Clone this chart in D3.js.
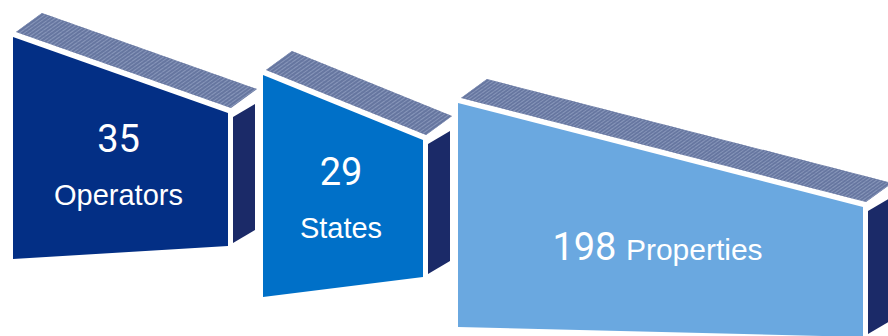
<!DOCTYPE html>
<html>
<head>
<meta charset="utf-8">
<script src="https://cdn.jsdelivr.net/npm/d3@7"></script>
<style>
  html, body { margin: 0; padding: 0; background: #fff; }
  svg { display: block; }
  .num { font-family: Roboto, "Liberation Sans", Arial, sans-serif; font-weight: 400; fill: #fff; }
  .lbl { font-family: "Liberation Sans", Arial, sans-serif; fill: #fff; }
</style>
</head>
<body>
<svg width="888" height="336"></svg>
<script>
// data
const categories = ['Operators', 'States', 'Properties']
const values = [35, 29, 198]
const fills = ['#032f85', '#0070c8', '#6aa8e0']

// layout of the blocks (design units, px)
const faceW = [215, 160, 405]
const topY = [37, 75, 103]
const slopeDrop = [76, 65, 104]
const leftH = [222, 222, 224]
const rightH = [133, 137, 130]
const GAP = 35
const TOP_DEPTH = [26, -19]
const SIDE_DEPTH = [22, -13]

const svg = d3.select('svg')
const width = +svg.attr('width')
const height = +svg.attr('height')

let starts = []
faceW.reduce((acc, w, i) => { starts[i] = acc; return acc + w + GAP }, 0)
const xScale = d3.scaleLinear().domain([0, 888]).range([13, 13 + 888])
const yScale = d3.scaleLinear().domain([0, height]).range([0, height])

const poly = d3.line().x(d => d[0]).y(d => d[1]).curve(d3.curveLinearClosed)

const blocks = categories.map(function (c, i) {
    const x0 = xScale(starts[i])
    const x1 = xScale(starts[i] + faceW[i])
    const tl = [x0, yScale(topY[i])]
    const tr = [x1, yScale(topY[i] + slopeDrop[i])]
    const br = [x1, yScale(topY[i] + slopeDrop[i] + rightH[i])]
    const bl = [x0, yScale(topY[i] + leftH[i])]
    const ftl = [tl[0] + 3, tl[1] - 5], ftr = [tr[0] + 3, tr[1] - 5]
    const top = [ftl, ftr, [ftr[0] + TOP_DEPTH[0], ftr[1] + TOP_DEPTH[1]], [ftl[0] + TOP_DEPTH[0], ftl[1] + TOP_DEPTH[1]]]
    const stl = [x1 + 5, tr[1] + 4], sbl = [x1 + 5, br[1] - 3]
    const side = [stl, [stl[0] + SIDE_DEPTH[0], stl[1] + SIDE_DEPTH[1]], [sbl[0] + SIDE_DEPTH[0], sbl[1] + SIDE_DEPTH[1]], sbl]
    return {cat: c, value: values[i], fill: fills[i], front: [tl, tr, br, bl], top: top, side: side,
        cx: (x0 + x1) / 2, cy: (tl[1] + tr[1] + br[1] + bl[1]) / 4}
})

const defs = svg.append('defs')
blocks.forEach(function (b, i) {
    defs.append('clipPath').attr('id', 'top-clip-' + i)
        .append('path').attr('d', poly(b.top))
})

const g = svg.selectAll('.block')
    .data(blocks)
    .enter()
    .append('g')
    .attr('class', 'block')

// top face with ribbed texture
g.append('path')
    .attr('d', d => poly(d.top))
    .attr('fill', '#66769f')
g.each(function (d, i) {
    const [a, b] = d.top
    const len = Math.hypot(b[0] - a[0], b[1] - a[1])
    const steps = d3.range(0, len + 4, 3.6)
    const ux = (b[0] - a[0]) / len, uy = (b[1] - a[1]) / len
    const tg = d3.select(this).append('g').attr('clip-path', `url(#top-clip-${i})`)
    tg.selectAll('line')
        .data(steps)
        .enter()
        .append('line')
        .attr('x1', s => a[0] + ux * s - 3)
        .attr('y1', s => a[1] + uy * s + 2)
        .attr('x2', s => a[0] + ux * s + TOP_DEPTH[0] + 3)
        .attr('y2', s => a[1] + uy * s + TOP_DEPTH[1] - 2)
        .attr('stroke', '#8795b9')
        .attr('stroke-width', 1.1)
    // faint lines along the length
    tg.selectAll('.len')
        .data(d3.range(0.2, 1, 0.2))
        .enter()
        .append('line')
        .attr('class', 'len')
        .attr('x1', t => a[0] + TOP_DEPTH[0] * t)
        .attr('y1', t => a[1] + TOP_DEPTH[1] * t)
        .attr('x2', t => b[0] + TOP_DEPTH[0] * t)
        .attr('y2', t => b[1] + TOP_DEPTH[1] * t)
        .attr('stroke', '#6a79a3')
        .attr('stroke-width', 0.8)
        .attr('opacity', 0.5)
})

g.append('path')
    .attr('d', d => poly(d.side))
    .attr('fill', '#1b2a68')

g.append('path')
    .attr('d', d => poly(d.front))
    .attr('fill', d => d.fill)

// labels
g.filter((d, i) => i < 2).append('text')
    .attr('class', 'num')
    .attr('x', d => d.cx - 2)
    .attr('y', d => d.cy - 12)
    .attr('text-anchor', 'middle')
    .style('font-size', '38px')
    .text(d => d.value)
g.filter((d, i) => i < 2).append('text')
    .attr('class', 'lbl')
    .attr('x', d => d.cx - 2)
    .attr('y', d => d.cy + 41)
    .attr('text-anchor', 'middle')
    .style('font-size', '29px')
    .text(d => d.cat)
let t = g.filter((d, i) => i == 2).append('text')
    .attr('class', 'lbl')
    .attr('x', d => d.cx - 3)
    .attr('y', d => d.cy + 16.5)
    .attr('text-anchor', 'middle')
t.append('tspan').attr('class', 'num').style('font-size', '38px').text(d => d.value + ' ')
t.append('tspan').style('font-size', '30px').text(d => d.cat)
</script>
</body>
</html>
